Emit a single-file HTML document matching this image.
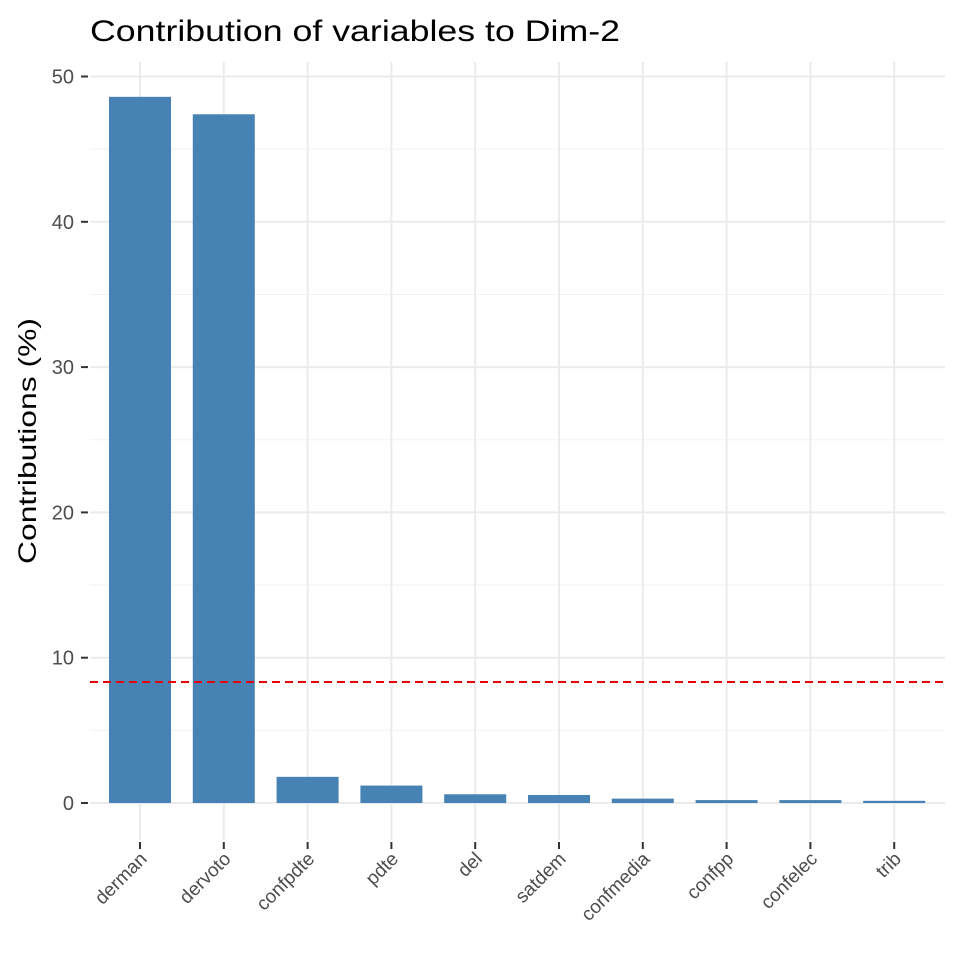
<!DOCTYPE html>
<html><head><meta charset="utf-8"><style>
body{margin:0;background:#fff}
svg text{font-family:"Liberation Sans",Arial,sans-serif}
</style></head><body>
<svg id="chart" width="960" height="960" xmlns="http://www.w3.org/2000/svg">
<text x="90" y="41" font-size="30" textLength="530" lengthAdjust="spacingAndGlyphs" fill="#000">Contribution of variables to Dim-2</text>
<text transform="translate(36,441) rotate(-90)" text-anchor="middle" font-size="25" textLength="246" lengthAdjust="spacingAndGlyphs" fill="#000">Contributions (%)</text>
<g id="grid"></g><g id="bars"></g><g id="axes"></g>
</svg>
<script>
const categories=["derman","dervoto","confpdte","pdte","del","satdem","confmedia","confpp","confelec","trib"];
const values=[48.6,47.4,1.8,1.2,0.6,0.55,0.3,0.2,0.2,0.15];
const yTicks=[0,10,20,30,40,50];
const refLine=[8.33];
const NS="http://www.w3.org/2000/svg";
const pL=90,pR=945,pT=62,pB=840;
const y0px=803,unit=14.53;
function y(v){return y0px-v*unit;}
const band=83.8,firstCenter=140;
function x(i){return firstCenter+band*i;}
function mk(t,a,p){const e=document.createElementNS(NS,t);for(const k in a)e.setAttribute(k,a[k]);p.appendChild(e);return e;}
const grid=document.getElementById('grid'),bars=document.getElementById('bars'),axes=document.getElementById('axes');
for(let i=0;i<yTicks.length;i++){
  const v=yTicks[i];
  const g=mk('line',{x1:pL,x2:pR,y1:y(v),y2:y(v),stroke:'#ebebeb','stroke-width':2},grid);
  
  
  if(i<yTicks.length-1){const m=mk('line',{x1:pL,x2:pR,y1:y(v+5),y2:y(v+5),stroke:'#f2f2f2','stroke-width':1},grid);
  
  }
  const t=mk('line',{x1:81,x2:88,y1:y(v),y2:y(v),stroke:'#333','stroke-width':2},axes);
  
  
  const l=mk('text',{x:74,y:y(v)+7,'text-anchor':'end','font-size':20,fill:'#4d4d4d'},axes);
  l.textContent=v;
  
  
}
categories.forEach((c,i)=>{
  const g=mk('line',{x1:x(i),x2:x(i),y1:pT,y2:pB,stroke:'#ebebeb','stroke-width':2},grid);
  
  
  const bw=band*0.74;
  const b=mk('rect',{x:x(i)-bw/2,y:y(values[i]),width:bw,height:y(0)-y(values[i]),fill:'#4682b4'},bars);
  
  
  const t=mk('line',{x1:x(i),x2:x(i),y1:842,y2:849,stroke:'#333','stroke-width':2},axes);
  
  
  const l=mk('text',{transform:`translate(${x(i)+8},${860}) rotate(-45)`,'text-anchor':'end','font-size':19,fill:'#4d4d4d'},axes);
  l.textContent=c;
  
  
});
const r=mk('line',{x1:pL,x2:pR,y1:y(refLine[0]),y2:y(refLine[0]),stroke:'#e8000b','stroke-width':2,'stroke-dasharray':'8,5'},bars);


</script>
</body></html>
